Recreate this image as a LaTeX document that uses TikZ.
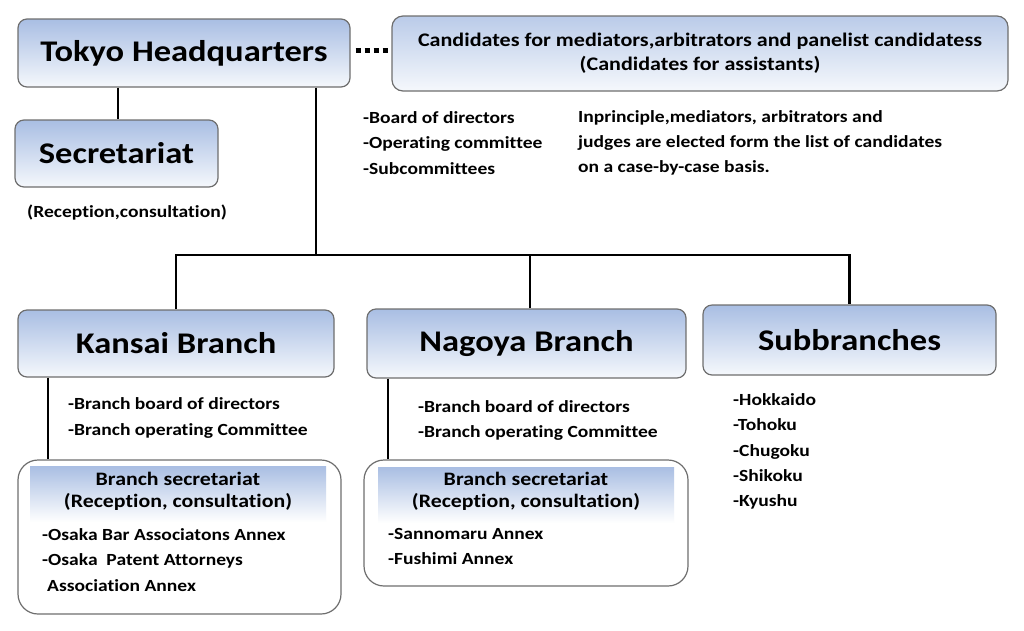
\documentclass[tikz,border=0pt]{standalone}
\usepackage{fontspec}
\setmainfont[FakeStretch=1.15,RawFeature={-liga}]{Carlito}
\definecolor{boxtop}{HTML}{A9BEE3}
\definecolor{boxbot}{HTML}{F5F8FC}
\definecolor{boxline}{HTML}{6E6E6E}
\begin{document}
\begin{tikzpicture}[x=1pt,y=-1pt,
  bigbox/.style={draw=boxline, line width=1.2pt, rounded corners=9pt, top color=boxtop, bottom color=boxbot, inner sep=0pt, font=\bfseries\fontsize{30}{34}\selectfont},
  candbox/.style={draw=boxline, line width=1.2pt, rounded corners=11pt, top color=boxtop!80, bottom color=boxbot, inner sep=0pt, align=center, font=\bfseries\fontsize{19.2}{24}\selectfont},
  secbox/.style={draw=boxline, line width=1.2pt, rounded corners=20pt, fill=white, inner sep=0pt},
  band/.style={top color=boxtop, bottom color=white, inner sep=0pt, draw=none},
  bandtext/.style={align=center, inner sep=0pt, font=\bfseries\fontsize{19}{22}\selectfont},
  list/.style={align=left, anchor=west, inner sep=0pt, font=\bfseries\fontsize{17}{25.2}\selectfont},
  conn/.style={line width=2.4pt, black}
]
\useasboundingbox (0,0) rectangle (1024,630);

\node[bigbox, minimum width=332pt, minimum height=68pt] (tokyo) at (184,53) {Tokyo Headquarters};
\node[bigbox, minimum width=203pt, minimum height=67pt] (sec) at (116.5,153.5) {Secretariat};
\node[candbox, minimum width=616pt, minimum height=75pt] (cand) at (700,53.5) {Candidates for mediators,arbitrators and panelist candidatess\\(Candidates for assistants)};

\node[bigbox, minimum width=316pt, minimum height=67pt] (kansai) at (176,343.5) {Kansai Branch};
\node[bigbox, minimum width=319pt, minimum height=69pt] (nagoya) at (526.5,343.5) {Nagoya Branch};
\node[bigbox, minimum width=293pt, minimum height=70pt] (sub) at (849.5,340) {Subbranches};

\node[secbox, minimum width=323pt, minimum height=154pt] (ksec) at (179.5,537) {};
\node[band, minimum width=296pt, minimum height=56pt] (kband) at (178,494) {};
\node[bandtext] (kbandt) at (178,491) {Branch secretariat\\(Reception, consultation)};

\node[secbox, minimum width=324pt, minimum height=126pt] (nsec) at (526,523) {};
\node[band, minimum width=296pt, minimum height=56pt] (nband) at (526,495) {};
\node[bandtext] (nbandt) at (526,491) {Branch secretariat\\(Reception, consultation)};

% texts
\node[inner sep=0pt, font=\bfseries\fontsize{17}{20}\selectfont] (recep) at (127,213) {(Reception,consultation)};
\node[list] (hqlist) at (363,143) {-Board of directors\\-Operating committee\\-Subcommittees};
\node[list] (princ) at (578,143) {Inprinciple,mediators, arbitrators and\\judges are elected form the list of candidates\\on a case-by-case basis.};
\node[list] (klist) at (68,418) {-Branch board of directors\\-Branch operating Committee};
\node[list] (nlist) at (418,420.5) {-Branch board of directors\\-Branch operating Committee};
\node[list] (slist) at (733,451.5) {-Hokkaido\\-Tohoku\\-Chugoku\\-Shikoku\\-Kyushu};
\node[list] (kann) at (42,560) {-Osaka Bar Associatons Annex\\-Osaka\ \ Patent Attorneys\\\hspace*{5pt}Association Annex};
\node[list] (nann) at (388,546.5) {-Sannomaru Annex\\-Fushimi Annex};

% connectors
\coordinate (x118) at (118,0);
\coordinate (j) at (316,255);
\coordinate (x48) at (48,0);
\coordinate (x388) at (388,0);
\coordinate (x530) at (530,0);
\draw[conn] (tokyo.south -| x118) -- (sec.north -| x118);
\draw[conn] (tokyo.south -| j) -- (j);
\draw[conn] (kansai.north) |- (sub.north |- j) -- (sub.north);
\draw[conn] (nagoya.north -| x530) -- (j -| x530);
\draw[conn] (kansai.south -| x48) -- (ksec.north -| x48);
\draw[conn] (nagoya.south -| x388) -- (nsec.north -| x388);
\draw[line width=5pt, dash pattern=on 5pt off 4pt] ([yshift=3pt,xshift=5pt]tokyo.east) -- ([yshift=3.5pt]cand.west);
\end{tikzpicture}
\end{document}
